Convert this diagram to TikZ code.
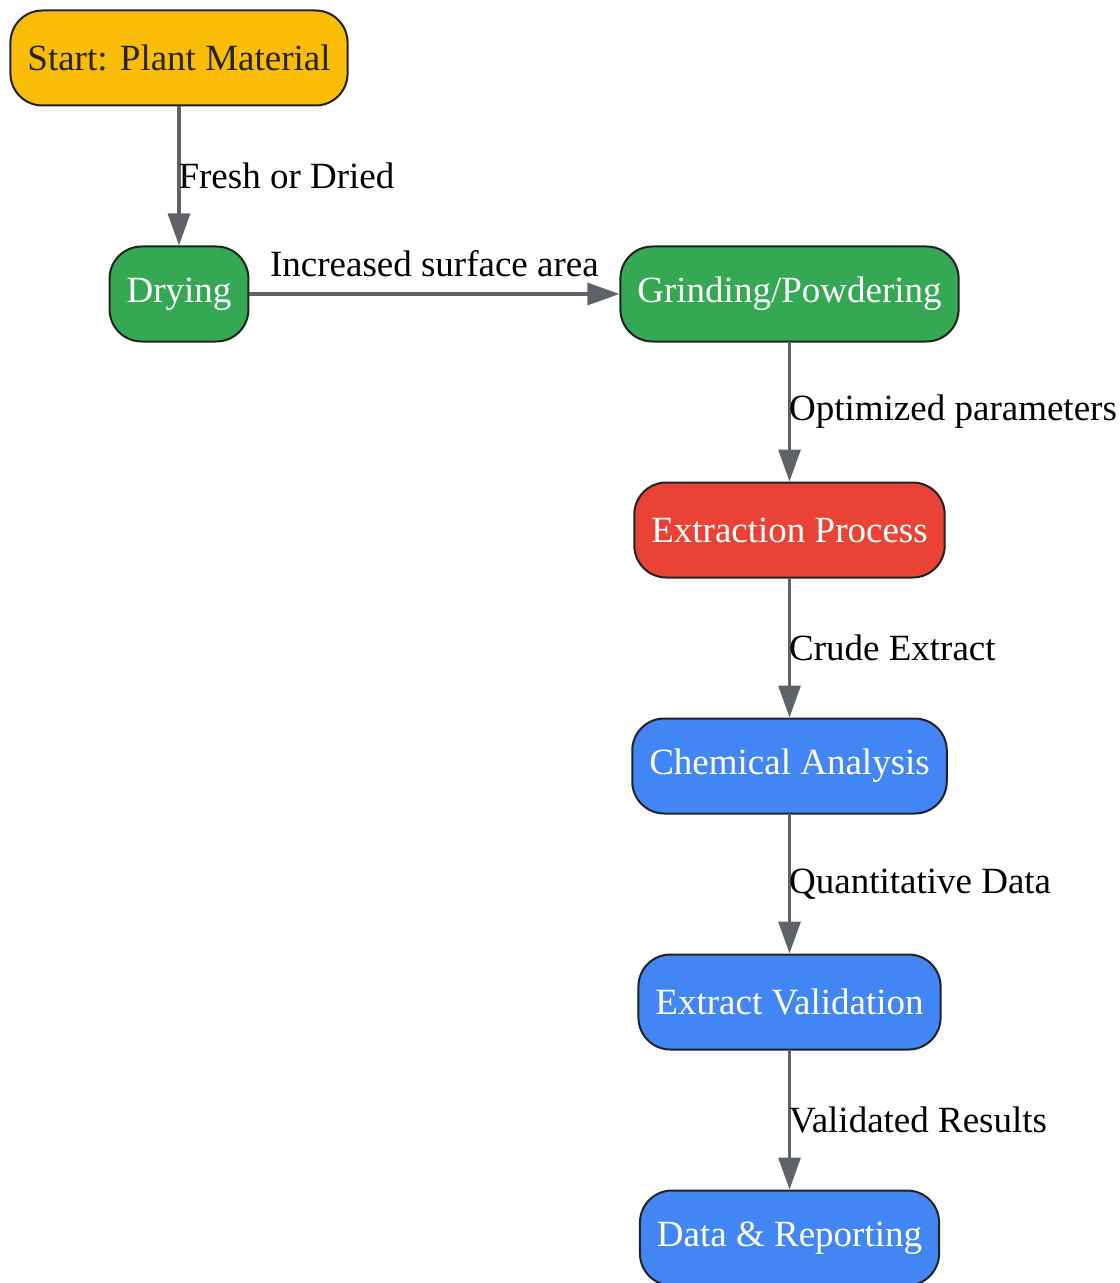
\documentclass[tikz,border=0pt]{standalone}
\usepackage{fontspec}
\setmainfont{Liberation Serif}
\usepackage{tikz}
\usetikzlibrary{positioning}
\usetikzlibrary{arrows.meta}
\definecolor{startyellow}{HTML}{FBBC05}
\definecolor{prepgreen}{HTML}{34A853}
\definecolor{extractred}{HTML}{EA4335}
\definecolor{analysisblue}{HTML}{4285F4}
\definecolor{edgegrey}{HTML}{5F6368}
\definecolor{borderdark}{HTML}{222222}
\tikzstyle{box} = [rectangle,draw=borderdark,line width=1pt,rounded corners=16pt,minimum height=47.5pt,inner xsep=8.5pt,align=center]
\tikzstyle{startbox} = [box,fill=startyellow,text=black!85]
\tikzstyle{prepbox} = [box,fill=prepgreen,text=white]
\tikzstyle{extractbox} = [box,fill=extractred,text=white]
\tikzstyle{analysisbox} = [box,fill=analysisblue,text=white]

\begin{document}
\begin{tikzpicture}
	[font=\fontsize{18.5pt}{22pt}\selectfont,node distance=69.5pt,]
	\tikzstyle{arrow}=[-{Triangle[length=16pt,width=11pt]},draw=edgegrey,fill=edgegrey,line width=1.6pt];
	\tikzstyle{label}=[midway,anchor=west,inner sep=0pt,xshift=-1pt,text=black];
	\useasboundingbox (0,0) rectangle (559.5pt,-641.5pt);
	
	\node (1) [startbox] at (89.5pt,-29pt) {Start: Plant Material};
	\node (2) [prepbox,below=of 1] {Drying};
	\node (3) [prepbox,right=185pt of 2] {Grinding/Powdering};
	\node (4) [extractbox,below=of 3] {Extraction Process};
	\node (5) [analysisbox,below=of 4] {Chemical Analysis};
	\node (6) [analysisbox,below=of 5] {Extract Validation};
	\node (7) [analysisbox,below=of 6] {Data \& Reporting};
	
	\path[arrow]
		(1) edge node[label] {Fresh or Dried} (2)
		(2) edge node[midway,above=8pt,inner sep=0pt,text=black] {Increased surface area} (3)
		(3) edge node[label] {Optimized parameters} (4)
		(4) edge node[label] {Crude Extract} (5)
		(5) edge node[label] {Quantitative Data} (6)
		(6) edge node[label] {Validated Results} (7);
\end{tikzpicture}
\end{document}
